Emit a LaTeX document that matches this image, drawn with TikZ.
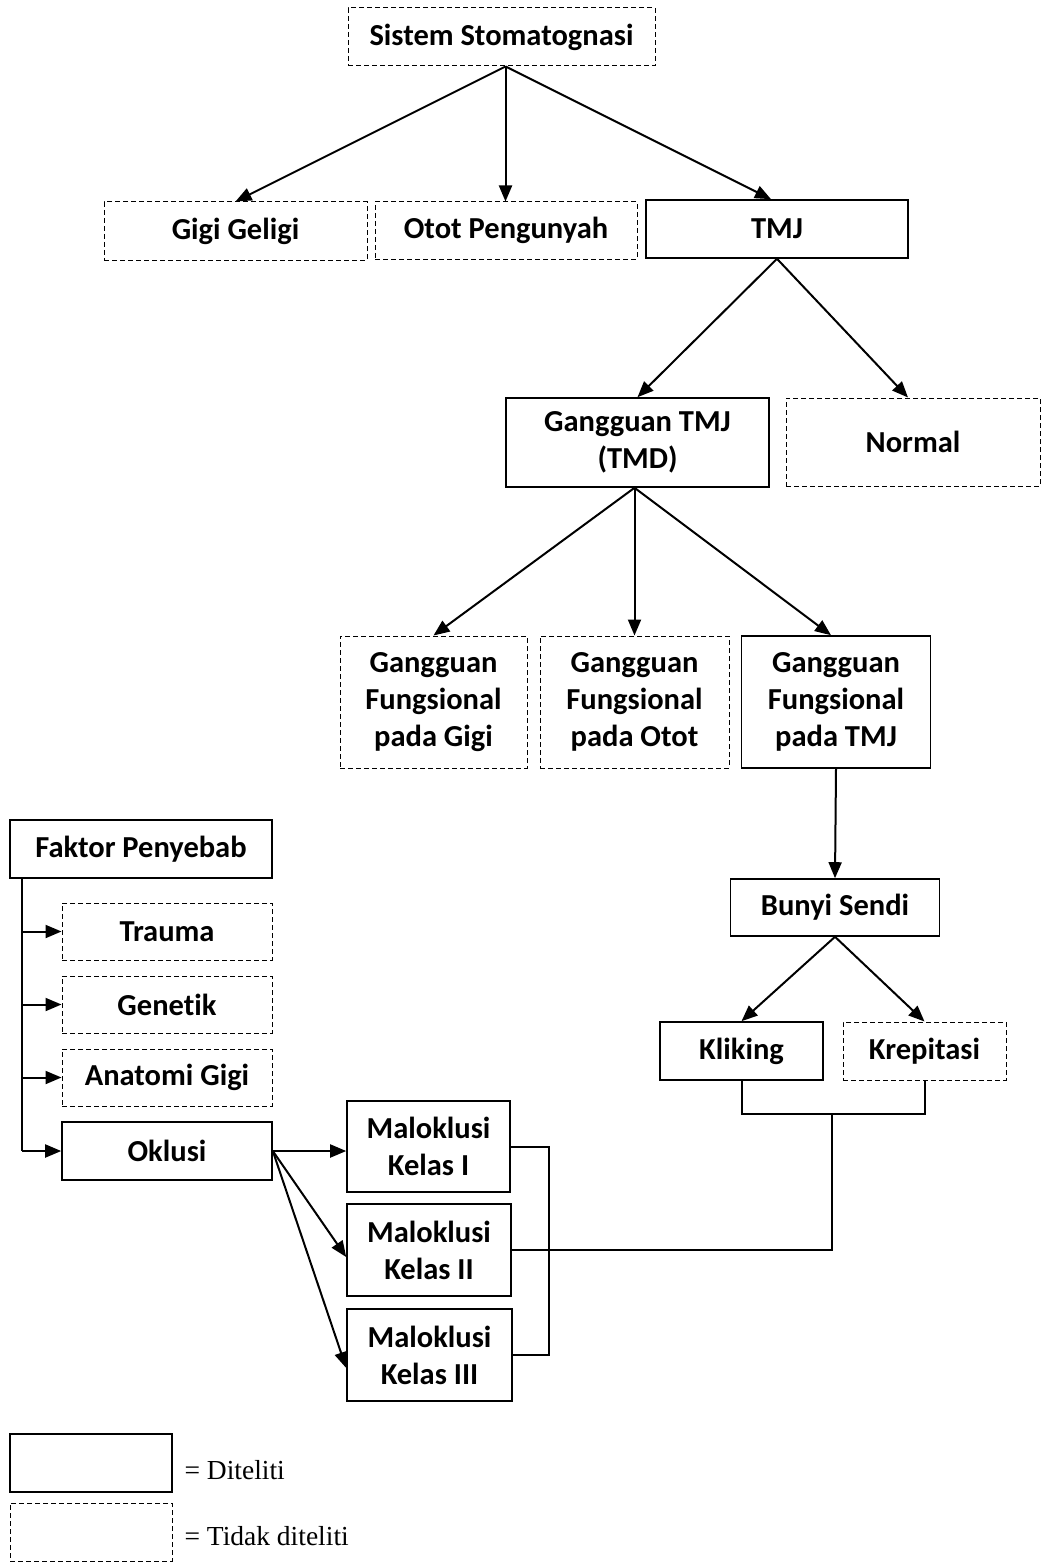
\documentclass[tikz,border=0pt]{standalone}
\usepackage{fontspec}
\setmainfont{Carlito}[Ligatures=NoCommon]
\newfontfamily\legendfont{Liberation Serif}
\usepackage{tikz}
\usetikzlibrary{arrows.meta, positioning, calc}

\begin{document}
\begin{tikzpicture}[x=1pt, y=-1pt,
  box/.style={draw, line width=1.6pt, align=center, inner sep=0pt,
    font=\fontsize{30.5}{37}\selectfont\bfseries},
  dbox/.style={box, line width=1pt, dash pattern=on 5pt off 3pt},
  arr/.style={line width=2pt, -{Triangle[length=16pt, width=13pt]}},
  conn/.style={line width=2pt}]
\useasboundingbox (0,0) rectangle (1042,1562);
% Top level
\node[dbox, minimum width=307, minimum height=58] (sistem) at (501.5,37) {Sistem Stomatognasi};
\node[dbox, minimum width=263, minimum height=58] (gigi) at (235.5,231) {Gigi Geligi};
\node[dbox, minimum width=262, minimum height=57] (otot) at (506,230.5) {Otot Pengunyah};
\node[box, minimum width=262, minimum height=58] (tmj) at (777,229) {TMJ};
\coordinate (sistemout) at ($(sistem.south)+(4,0)$);
\draw[arr] (sistemout) -- (gigi.north);
\draw[arr] (sistemout) -- (sistemout |- otot.north);
\draw[arr] (sistemout) -- ($(tmj.north)+(-6,0)$);
% TMJ branch
\node[box, minimum width=263, minimum height=89] (tmd) at (637.5,442.5) {Gangguan TMJ\\(TMD)};
\node[dbox, minimum width=254, minimum height=88] (normal) at (913,442) {Normal};
\draw[arr] (tmj.south) -- (tmd.north);
\draw[arr] (tmj.south) -- ($(normal.north)+(-5,0)$);
% Gangguan fungsional
\node[dbox, minimum width=187, minimum height=132] (fgigi) at (433.5,702) {Gangguan\\Fungsional\\pada Gigi};
\node[dbox, minimum width=189, minimum height=132] (fotot) at (634.5,702) {Gangguan\\Fungsional\\pada Otot};
\node[box, minimum width=189, minimum height=132] (ftmj) at (836,702) {Gangguan\\Fungsional\\pada TMJ};
\coordinate (tmdout) at ($(tmd.south)+(-3,0)$);
\draw[arr] (tmdout) -- (fgigi.north);
\draw[arr] (tmdout) -- (tmdout |- fotot.north);
\draw[arr] (tmdout) -- ($(ftmj.north)+(-5,0)$);
% Bunyi sendi
\node[box, minimum width=209, minimum height=57] (bunyi) at (835,907.5) {Bunyi Sendi};
\node[box, minimum width=163, minimum height=58] (kliking) at (741.5,1051) {Kliking};
\node[dbox, minimum width=163, minimum height=58] (krepitasi) at (924.5,1051) {Krepitasi};
\draw[arr] (ftmj.south) -- (bunyi.north);
\draw[arr] (bunyi.south) -- (kliking.north);
\draw[arr] (bunyi.south) -- (krepitasi.north);
\draw[conn] (kliking.south) -- ++(0,33) -| (krepitasi.south);
\coordinate (join) at (832,1113);
% Faktor penyebab
\node[box, minimum width=262, minimum height=58] (faktor) at (141,849) {Faktor Penyebab};
\node[dbox, minimum width=210, minimum height=57] (trauma) at (167,931.5) {Trauma};
\node[dbox, minimum width=210, minimum height=57] (genetik) at (167,1004.5) {Genetik};
\node[dbox, minimum width=210, minimum height=57] (anatomi) at (167,1077.5) {Anatomi Gigi};
\node[box, minimum width=210, minimum height=58] (oklusi) at (167,1151) {Oklusi};
\coordinate (spine) at ($(faktor.south west)+(13,0)$);
\draw[conn] (spine) -- (spine |- oklusi.west);
\foreach \n in {trauma, genetik, anatomi, oklusi}
  \draw[arr] (spine |- \n.west) -- (\n.west);
% Maloklusi
\node[box, minimum width=163, minimum height=91] (kelas1) at (428.5,1146.5) {Maloklusi\\Kelas I};
\node[box, minimum width=164, minimum height=92] (kelas2) at (429,1250) {Maloklusi\\Kelas II};
\node[box, minimum width=165, minimum height=92] (kelas3) at (429.5,1355) {Maloklusi\\Kelas III};
\draw[arr] (oklusi.east) -- (oklusi.east -| kelas1.west);
\draw[arr] (oklusi.east) -- ($(kelas2.west)+(0,7)$);
\draw[arr] (oklusi.east) -- ($(kelas3.west)+(0,13)$);
\draw[conn] (kelas1.east) -- ++(38,0) |- (kelas3.east);
\draw[conn] (join) |- (kelas2.east);
% Legend
\node[box, minimum width=162, minimum height=58] (legsolid) at (91,1463) {};
\node[dbox, minimum width=162, minimum height=58] (legdash) at (91,1532) {};
\node[anchor=west, font=\legendfont\fontsize{27.5}{32}\selectfont] (legsolidtxt) at (181,1470) {= Diteliti};
\node[anchor=west, font=\legendfont\fontsize{27.5}{32}\selectfont] (legdashtxt) at (181,1536) {= Tidak diteliti};
\end{tikzpicture}
\end{document}
